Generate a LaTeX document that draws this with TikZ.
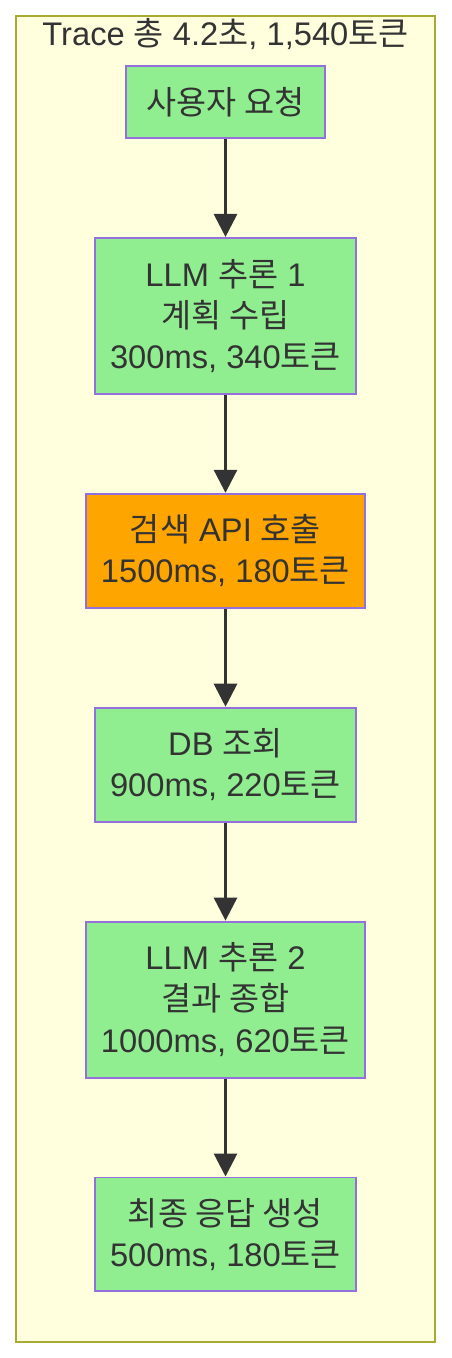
\documentclass[tikz,border=0pt]{standalone}
\usepackage{fontspec}
\setmainfont{Liberation Sans}
\newfontfamily\kr{Noto Sans CJK KR}
\usetikzlibrary{arrows.meta,positioning}
\definecolor{tracebg}{HTML}{FFFFDE}
\definecolor{traceline}{HTML}{AAAA33}
\definecolor{stagefill}{HTML}{90EE90}
\definecolor{stageline}{HTML}{9370DB}
\definecolor{slowfill}{HTML}{FFA500}
\definecolor{inkgray}{HTML}{333333}

\begin{document}
\begin{tikzpicture}[
    x=0.02cm, y=-0.02cm,
    stage/.style={rectangle, draw=stageline, line width=1.1pt, fill=stagefill, align=center, text=inkgray, inner sep=0pt, font=\fontsize{18.6}{23.4}\selectfont},
    slow/.style={stage, fill=slowfill},
    arrow/.style={-{Triangle[length=0.46cm, width=0.46cm]}, line width=1.7pt, draw=inkgray}
  ]
    \useasboundingbox (0,0) rectangle (452,1358);
    \draw[traceline, fill=tracebg, line width=0.8pt] (16,16) rectangle (435,1342);
    \node[text=inkgray, font=\fontsize{18.6}{22}\selectfont, anchor=base] (title) at (225.5,46) {Trace {\kr 총} 4.2{\kr 초}, 1,540{\kr 토큰}};
    \node[stage, minimum width=3.98cm, minimum height=1.44cm] (ask) at (225.5,102) {{\kr 사용자 요청}};
    \node[stage, minimum width=5.22cm, minimum height=3.12cm, below=1.96cm of ask] (plan) {LLM {\kr 추론} 1\\{\kr 계획 수립}\\300ms, 340{\kr 토큰}};
    \node[slow, minimum width=5.58cm, minimum height=2.28cm, below=1.96cm of plan] (search) {{\kr 검색} API {\kr 호출}\\1500ms, 180{\kr 토큰}};
    \node[stage, minimum width=5.22cm, minimum height=2.28cm, below=1.96cm of search] (db) {DB {\kr 조회}\\900ms, 220{\kr 토큰}};
    \node[stage, minimum width=5.58cm, minimum height=3.12cm, below=1.96cm of db] (merge) {LLM {\kr 추론} 2\\{\kr 결과 종합}\\1000ms, 620{\kr 토큰}};
    \node[stage, minimum width=5.22cm, minimum height=2.28cm, below=1.96cm of merge] (answer) {{\kr 최종 응답 생성}\\500ms, 180{\kr 토큰}};
    \draw[arrow] (ask) -- (plan);
    \draw[arrow] (plan) -- (search);
    \draw[arrow] (search) -- (db);
    \draw[arrow] (db) -- (merge);
    \draw[arrow] (merge) -- (answer);
  \end{tikzpicture}
\end{document}
